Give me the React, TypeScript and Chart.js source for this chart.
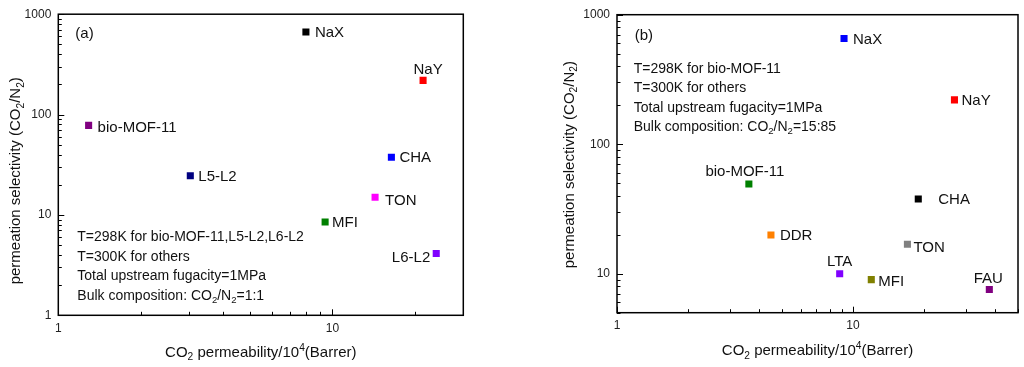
import React, { useEffect, useRef } from "react";
import { Chart, registerables } from "chart.js";
Chart.register(...registerables);

const FONT = "'Liberation Sans', Arial, Helvetica, sans-serif";

// ---------- Panel (a) data ----------
const namesA = ["NaX", "NaY", "bio-MOF-11", "L5-L2", "CHA", "TON", "MFI", "L6-L2"];
const permA = [8.0, 21.4, 1.29, 3.03, 16.4, 14.3, 9.4, 23.9];
const selA = [665, 219, 78, 24.6, 37.6, 15.0, 8.5, 4.13];
const colorsA = ["#000000", "#ff0000", "#800080", "#000080", "#0000ff", "#ff00ff", "#008000", "#8000ff"];
const labelModeA = ["right", "above", "right", "right", "right", "right", "right", "left"];
const labelOffA = [[9, 0], [5, -12], [9, 1], [8, 0], [8, -1], [10, 2], [7, 0], [-6, 3]];
const notesA = [
  "T=298K for bio-MOF-11,L5-L2,L6-L2",
  "T=300K for others",
  "Total upstream fugacity=1MPa",
  "Bulk composition: CO_{2}/N_{2}=1:1",
];
const xRangeA = [1, 30];
const yRangeA = [1, 1000];

// ---------- Panel (b) data ----------
const namesB = ["NaX", "NaY", "bio-MOF-11", "CHA", "DDR", "TON", "LTA", "MFI", "FAU"];
const permB = [9.16, 26.9, 3.62, 18.9, 4.49, 17.0, 8.78, 11.95, 37.8];
const selB = [656, 220, 49.3, 37.8, 19.9, 16.9, 10.0, 9.0, 7.56];
const colorsB = ["#0000ff", "#ff0000", "#008000", "#000000", "#ff8000", "#808080", "#8000ff", "#808000", "#800080"];
const labelModeB = ["right", "right", "above", "right", "right", "right", "above", "right", "above"];
const labelOffB = [[9, 0], [7, 0], [-4, -13], [20, 0], [9, 0], [6, 2], [0, -13], [7, 1], [-1, -12]];
const notesB = [
  "T=298K for bio-MOF-11",
  "T=300K for others",
  "Total upstream fugacity=1MPa",
  "Bulk composition: CO_{2}/N_{2}=15:85",
];
const xRangeB = [1, 50];
const yRangeB = [5, 1000];

const xTitle = "CO_{2} permeability/10^{4}(Barrer)";
const yTitle = "permeation selectivity (CO_{2}/N_{2})";

// ---------- helpers ----------
type Part = { t: string; m: number };
function parseRich(s: string): Part[] {
  const parts: Part[] = [];
  let i = 0;
  let buf = "";
  while (i < s.length) {
    const c = s[i];
    if ((c === "_" || c === "^") && s[i + 1] === "{") {
      if (buf) { parts.push({ t: buf, m: 0 }); buf = ""; }
      const end = s.indexOf("}", i);
      parts.push({ t: s.slice(i + 2, end), m: c === "^" ? 1 : -1 });
      i = end + 1;
    } else { buf += c; i++; }
  }
  if (buf) parts.push({ t: buf, m: 0 });
  return parts;
}

function drawRich(ctx: CanvasRenderingContext2D, s: string, x: number, cy: number, size: number, align: string, color: string) {
  const parts = parseRich(s);
  const small = size * 0.68;
  let total = 0;
  const widths = parts.map((p) => {
    ctx.font = `${p.m === 0 ? size : small}px ${FONT}`;
    const w = ctx.measureText(p.t).width;
    total += w;
    return w;
  });
  let cx = align === "left" ? x : align === "right" ? x - total : x - total / 2;
  const base = cy + size * 0.36;
  ctx.fillStyle = color;
  ctx.textAlign = "left";
  ctx.textBaseline = "alphabetic";
  parts.forEach((p, i) => {
    ctx.font = `${p.m === 0 ? size : small}px ${FONT}`;
    const yy = p.m === 0 ? base : p.m < 0 ? base + size * 0.22 : base - size * 0.42;
    ctx.fillText(p.t, cx, yy);
    cx += widths[i];
  });
}

function logMarks(min: number, max: number): number[] {
  const out: number[] = [];
  const d0 = Math.floor(Math.log10(min));
  const d1 = Math.ceil(Math.log10(max));
  for (let d = d0; d <= d1; d++) {
    for (let m = 1; m <= 9; m++) {
      const v = Math.round(m * Math.pow(10, d) * 1e6) / 1e6;
      if (v >= min - 1e-9 && v <= max + 1e-9) out.push(v);
    }
  }
  return out;
}
function isPow10(v: number) {
  const l = Math.log10(v);
  return Math.abs(l - Math.round(l)) < 1e-9;
}

const decorPlugin = {
  id: "decor",
  afterDraw(chart: any, _args: any, o: any) {
    const ctx: CanvasRenderingContext2D = chart.ctx;
    const ca = chart.chartArea;
    const xs = chart.scales.x;
    const ys = chart.scales.y;
    ctx.save();
    // tick marks (inside)
    ctx.strokeStyle = "#000";
    ctx.lineWidth = 1;
    ctx.beginPath();
    for (const v of logMarks(xs.min, xs.max)) {
      const p = Math.round(xs.getPixelForValue(v)) + 0.5;
      const L = isPow10(v) ? 6 : 3.5;
      ctx.moveTo(p, ca.bottom);
      ctx.lineTo(p, ca.bottom - L);
    }
    for (const v of logMarks(ys.min, ys.max)) {
      const p = Math.round(ys.getPixelForValue(v)) + 0.5;
      const L = isPow10(v) ? 6 : 3.5;
      ctx.moveTo(ca.left, p);
      ctx.lineTo(ca.left + L, p);
    }
    ctx.stroke();
    // frame
    ctx.lineWidth = 1.5;
    ctx.strokeRect(ca.left, ca.top, ca.right - ca.left, ca.bottom - ca.top);
    // point labels
    const meta = chart.getDatasetMeta(0);
    meta.data.forEach((pt: any, i: number) => {
      const mode = o.modes[i];
      const [dx, dy] = o.offs[i];
      const align = mode === "right" ? "left" : mode === "left" ? "right" : "center";
      drawRich(ctx, o.names[i], pt.x + dx, pt.y + dy, 15, align, "#111");
    });
    // panel letter
    drawRich(ctx, o.letter, ca.left + o.letterPos[0], ca.top + o.letterPos[1], 15, "left", "#111");
    // notes
    o.notes.forEach((n: string, i: number) => {
      drawRich(ctx, n, ca.left + o.notesPos[0], ca.top + o.notesPos[1] + i * o.notesStep, 14, "left", "#111");
    });
    // axis titles
    drawRich(ctx, xTitle, (ca.left + ca.right) / 2, ca.bottom + o.xTitleDy, 15, "center", "#111");
    ctx.save();
    ctx.translate(ca.left + o.yTitleDx, (ca.top + ca.bottom) / 2 + o.yTitleDy);
    ctx.rotate(-Math.PI / 2);
    drawRich(ctx, yTitle, 0, 0, 15, "center", "#111");
    ctx.restore();
    ctx.restore();
  },
};

function makeConfig(p: any) {
  const pts = p.xs.map((x: number, i: number) => ({ x, y: p.ys[i] }));
  const tickFont = { family: FONT, size: 12 };
  return {
    type: "scatter",
    data: {
      datasets: [
        {
          data: pts,
          pointStyle: "rect",
          pointRadius: 5,
          pointHoverRadius: 5,
          pointBorderWidth: 0,
          pointBackgroundColor: p.colors,
          pointBorderColor: p.colors,
          backgroundColor: p.colors,
          borderColor: p.colors,
        },
      ],
    },
    options: {
      animation: false,
      responsive: false,
      events: [],
      layout: { padding: p.padding },
      plugins: {
        legend: { display: false },
        tooltip: { enabled: false },
        decor: p.decor,
      },
      scales: {
        x: {
          type: "logarithmic",
          min: p.xRange[0],
          max: p.xRange[1],
          afterFit: (s: any) => { s.height = p.xAxisH; },
          afterBuildTicks: (s: any) => { s.ticks = logMarks(p.xRange[0], p.xRange[1]).map((v) => ({ value: v })); },
          grid: { display: false, drawTicks: false },
          border: { display: false },
          ticks: {
            autoSkip: false,
            maxRotation: 0,
            padding: 6,
            font: tickFont,
            color: "#222",
            callback: (v: any) => (isPow10(Number(v)) ? String(v) : ""),
          },
        },
        y: {
          type: "logarithmic",
          min: p.yRange[0],
          max: p.yRange[1],
          afterFit: (s: any) => { s.width = p.yAxisW; },
          afterBuildTicks: (s: any) => { s.ticks = logMarks(p.yRange[0], p.yRange[1]).map((v) => ({ value: v })); },
          grid: { display: false, drawTicks: false },
          border: { display: false },
          ticks: {
            autoSkip: false,
            padding: 7,
            font: tickFont,
            color: "#222",
            callback: (v: any) => (isPow10(Number(v)) ? String(v) : ""),
          },
        },
      },
    },
    plugins: [decorPlugin],
  };
}

function Panel(props: { cfg: any; left: number }) {
  const ref = useRef<HTMLCanvasElement | null>(null);
  useEffect(() => {
    if (!ref.current) return;
    const chart = new Chart(ref.current, props.cfg);
    return () => chart.destroy();
  }, []);
  return (
    <canvas
      ref={ref}
      width={512}
      height={367}
      style={{ position: "absolute", left: props.left, top: 0, width: 512, height: 367 }}
    />
  );
}

export default function App() {
  const cfgA = makeConfig({
    xs: permA,
    ys: selA,
    colors: colorsA,
    xRange: xRangeA,
    yRange: yRangeA,
    padding: { left: 0, top: 10.7, right: 48.7, bottom: 0 },
    xAxisH: 51.7,
    yAxisW: 58.3,
    decor: {
      names: namesA,
      modes: labelModeA,
      offs: labelOffA,
      letter: "(a)",
      letterPos: [17, 18],
      notes: notesA,
      notesPos: [19, 221.6],
      notesStep: 19.7,
      xTitleDy: 36.4,
      yTitleDx: -43.3,
      yTitleDy: 16,
    },
  });
  const cfgB = makeConfig({
    xs: permB,
    ys: selB,
    colors: colorsB,
    xRange: xRangeB,
    yRange: yRangeB,
    padding: { left: 0, top: 14.7, right: 5.3, bottom: 0 },
    xAxisH: 54.3,
    yAxisW: 105,
    decor: {
      names: namesB,
      modes: labelModeB,
      offs: labelOffB,
      letter: "(b)",
      letterPos: [17.7, 20.3],
      notes: notesB,
      notesPos: [16.7, 53.6],
      notesStep: 19.1,
      xTitleDy: 37.3,
      yTitleDx: -48.3,
      yTitleDy: 1,
    },
  });
  return (
    <div style={{ position: "absolute", left: 0, top: 0, width: 1024, height: 367, background: "#fff" }}>
      <Panel cfg={cfgA} left={0} />
      <Panel cfg={cfgB} left={512} />
    </div>
  );
}
